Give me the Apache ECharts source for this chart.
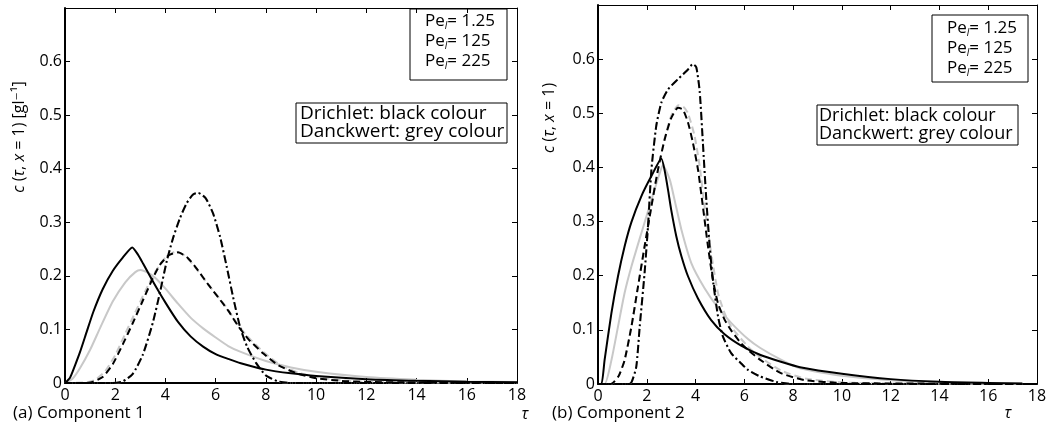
<!DOCTYPE html>
<html>
<head>
<meta charset="utf-8">
<script src="https://cdn.jsdelivr.net/npm/echarts/dist/echarts.min.js"></script>
<style>
  html, body { margin: 0; background: #fff; }
  #chart { width: 1051px; height: 428px; }
</style>
</head>
<body>
<div id="chart"></div>
<script>
// ─── Datos: pares [tau, c] ───────────────────────────────────────────────────

// (a) Component 1
const c1DrichletPe1 = [[0,0],[0.2,0.010],[0.4,0.033],[0.6,0.058],[0.86,0.095],[1.13,0.133],[1.5,0.175],[1.9,0.209],[2.3,0.234],[2.68,0.253],[2.9,0.240],[3.12,0.222],[3.52,0.188],[4.0,0.150],[4.5,0.114],[5.0,0.087],[5.5,0.068],[6.0,0.054],[6.5,0.045],[7.0,0.037],[8,0.025],[9,0.018],[10,0.013],[12,0.007],[14,0.004],[16,0.0025],[18,0.0015]]
const c1DanckPe1    = [[0,0],[0.3,0.008],[0.6,0.028],[1.0,0.062],[1.4,0.103],[1.9,0.152],[2.4,0.188],[2.8,0.207],[3.0,0.211],[3.3,0.206],[3.6,0.196],[4.0,0.176],[4.5,0.148],[5.0,0.122],[5.5,0.102],[6.0,0.085],[6.5,0.069],[7,0.058],[8,0.041],[9,0.029],[10,0.021],[12,0.011],[14,0.006],[16,0.003],[18,0.002]]
const c1DrichletPe2 = [[0,0],[0.8,0],[1.1,0.002],[1.5,0.011],[1.9,0.035],[2.3,0.072],[2.7,0.112],[3.1,0.154],[3.5,0.196],[3.8,0.222],[4.15,0.239],[4.5,0.244],[4.9,0.233],[5.3,0.210],[5.7,0.184],[6.1,0.160],[6.5,0.135],[6.9,0.106],[7.3,0.082],[7.9,0.055],[8.5,0.033],[9.3,0.017],[10,0.009],[11,0.004],[12,0.002],[14,0.001],[18,0]]
const c1DanckPe2    = [[0,0],[0.8,0.001],[1.2,0.006],[1.6,0.022],[2.0,0.052],[2.4,0.092],[2.8,0.132],[3.2,0.172],[3.6,0.208],[4.0,0.234],[4.4,0.245],[4.8,0.237],[5.2,0.215],[5.6,0.190],[6.0,0.167],[6.4,0.143],[6.8,0.115],[7.2,0.090],[7.9,0.058],[8.5,0.036],[9.3,0.019],[10,0.011],[11,0.005],[12,0.002],[14,0.001],[18,0]]
const c1DrichletPe3 = [[0,0],[1.9,0],[2.3,0.003],[2.7,0.017],[3.1,0.053],[3.5,0.113],[3.8,0.173],[4.05,0.227],[4.3,0.270],[4.58,0.308],[4.85,0.336],[5.1,0.352],[5.3,0.355],[5.6,0.345],[5.9,0.316],[6.18,0.272],[6.44,0.217],[6.71,0.157],[6.97,0.105],[7.25,0.068],[7.6,0.038],[8.0,0.014],[8.5,0.003],[9,0],[18,0]]
const c1DanckPe3    = c1DrichletPe3   // coincide con la negra

// (b) Component 2
const c2DrichletPe1 = [[0,0],[0.14,0],[0.27,0.044],[0.55,0.131],[0.82,0.199],[1.09,0.254],[1.37,0.299],[1.78,0.347],[2.19,0.384],[2.6,0.416],[2.73,0.395],[2.87,0.359],[3.0,0.322],[3.21,0.273],[3.42,0.236],[3.69,0.199],[4.1,0.158],[4.64,0.118],[5.19,0.092],[5.87,0.071],[6.64,0.054],[7.5,0.041],[8.28,0.031],[10,0.019],[12,0.009],[14,0.004],[16,0.002],[17.4,0.001]]
const c2DanckPe1    = [[0,0],[0.27,0],[0.55,0.044],[0.82,0.106],[1.09,0.168],[1.37,0.217],[1.78,0.279],[2.19,0.340],[2.5,0.385],[2.66,0.404],[2.94,0.378],[3.14,0.340],[3.42,0.285],[3.83,0.223],[4.37,0.177],[4.92,0.141],[5.46,0.113],[6.15,0.083],[6.64,0.067],[7.5,0.045],[8.28,0.029],[10,0.015],[12,0.007],[14,0.003],[16,0.0015],[17.4,0.001]]
const c2DrichletPe2 = [[0,0],[0.45,0],[0.61,0.002],[0.85,0.015],[1.09,0.044],[1.37,0.106],[1.64,0.180],[1.91,0.254],[2.19,0.328],[2.46,0.396],[2.73,0.451],[3.0,0.491],[3.28,0.510],[3.48,0.507],[3.69,0.483],[3.89,0.446],[4.1,0.396],[4.3,0.328],[4.51,0.254],[4.71,0.193],[4.92,0.149],[5.19,0.119],[5.46,0.099],[5.87,0.075],[6.15,0.063],[6.64,0.045],[7.5,0.020],[8.5,0.007],[10,0.002],[12,0.001],[17.4,0]]
const c2DanckPe2    = [[0,0],[0.45,0],[0.61,0.002],[0.85,0.015],[1.09,0.044],[1.37,0.106],[1.64,0.180],[1.91,0.254],[2.19,0.328],[2.46,0.396],[2.73,0.453],[3.0,0.495],[3.3,0.515],[3.5,0.512],[3.69,0.500],[3.96,0.458],[4.17,0.402],[4.37,0.328],[4.64,0.242],[4.92,0.168],[5.19,0.131],[5.46,0.106],[6.15,0.069],[6.64,0.050],[7.5,0.025],[8.5,0.010],[10,0.003],[12,0.001],[17.4,0]]
const c2DrichletPe3 = [[0,0],[1.2,0],[1.37,0.003],[1.57,0.032],[1.71,0.106],[1.91,0.205],[2.05,0.291],[2.19,0.396],[2.39,0.477],[2.6,0.520],[2.87,0.544],[3.28,0.563],[3.69,0.581],[3.89,0.591],[4.03,0.585],[4.17,0.540],[4.3,0.446],[4.44,0.341],[4.58,0.254],[4.71,0.193],[4.92,0.125],[5.12,0.088],[5.46,0.057],[5.87,0.038],[6.15,0.026],[6.64,0.014],[7.3,0.004],[8,0],[17.4,0]]
const c2DanckPe3    = c2DrichletPe3

const xTicks   = { min: 0, max: 18, interval: 2 }
const yTicks   = { min: 0, max: 0.7, interval: 0.1 }
const peLines  = ['1.25', '125', '225']
const bcLines  = ['Drichlet: black colour', 'Danckwert: grey colour']

// ─── Estilos ────────────────────────────────────────────────────────────────

const FONT  = '"Open Sans", "DejaVu Sans", sans-serif'
const BLACK = '#000'
const GREY  = '#c8c8c8'
const DASH  = [7, 4]
const DOT   = [8, 3, 2, 3]

const grids = [
  { left: 65,  top: 8, width: 452, height: 375 },
  { left: 598, top: 5, width: 439, height: 379 },
]

function xAxes(gi) {
  const base = {
    type: 'value', gridIndex: gi, ...xTicks,
    splitLine: { show: false },
    axisTick: { inside: true, length: 5, lineStyle: { color: BLACK, width: 1 } },
  }
  return [
    { ...base, position: 'bottom',
      axisLine: { onZero: false, lineStyle: { color: BLACK, width: 2 } },
      axisLabel: { color: BLACK, fontSize: 16, fontFamily: FONT, margin: 4 } },
    { ...base, position: 'top',
      axisLine: { onZero: false, lineStyle: { color: BLACK, width: 1 } },
      axisLabel: { show: false } },
  ]
}

function yAxes(gi) {
  const base = {
    type: 'value', gridIndex: gi, ...yTicks,
    splitLine: { show: false },
    axisTick: { inside: true, length: 5, lineStyle: { color: BLACK, width: 1 } },
  }
  return [
    { ...base, position: 'left',
      axisLine: { onZero: false, lineStyle: { color: BLACK, width: 2 } },
      axisLabel: { color: BLACK, fontSize: 16, fontFamily: FONT, margin: 3,
        formatter: v => v === 0 ? '0' : (v > 0.65 ? '' : v.toFixed(1)) } },
    { ...base, position: 'right',
      axisLine: { onZero: false, lineStyle: { color: BLACK, width: 1 } },
      axisLabel: { show: false } },
  ]
}

function line(name, data, gi, color, type) {
  return {
    name, type: 'line', data,
    xAxisIndex: gi * 2, yAxisIndex: gi * 2,
    showSymbol: false, smooth: 0.2,
    lineStyle: { color, width: 2, type },
    z: color === GREY ? 2 : 3,
  }
}

// ─── Cajas de texto (leyendas de la figura) ─────────────────────────────────

const textStyle = (extra) => ({ fill: BLACK, fontFamily: FONT, fontSize: 17, ...extra })
const peRich = {
  a: { fontFamily: FONT, fontSize: 17, color: BLACK, lineHeight: 20 },
  s: { fontFamily: FONT, fontSize: 10, fontStyle: 'italic', color: BLACK, verticalAlign: 'bottom', lineHeight: 12 },
}

function peBox(x, y, w, h, tx, ty) {
  return {
    type: 'group', children: [
      { type: 'rect', shape: { x, y, width: w, height: h }, style: { fill: '#fff', stroke: BLACK, lineWidth: 1 } },
      ...peLines.map((v, i) => ({
        type: 'text', x: tx, y: ty + i * 20,
        style: { text: `{a|Pe}{s|l}{a|= ${v}}`, rich: peRich, verticalAlign: 'middle', align: 'left' },
      })),
    ],
  }
}

function bcBox(x, y, w, h, tx, ty, size) {
  return {
    type: 'group', children: [
      { type: 'rect', shape: { x, y, width: w, height: h }, style: { fill: '#fff', stroke: BLACK, lineWidth: 1 } },
      ...bcLines.map((t, i) => ({
        type: 'text', x: tx, y: ty + i * 18,
        style: textStyle({ text: t, fontSize: size, verticalAlign: 'middle', align: 'left' }),
      })),
    ],
  }
}

const axisRich = {
  n: { fontFamily: FONT, fontSize: 16, color: BLACK },
  i: { fontFamily: FONT, fontSize: 16, color: BLACK, fontStyle: 'italic' },
}

const graphic = [
  { type: 'text', x: 19, y: 137, rotation: Math.PI / 2,
    style: { text: '{i|c}{n| (}{i|τ}{n|, }{i|x}{n| = 1) [gl⁻¹]}', rich: axisRich, align: 'center', verticalAlign: 'middle' } },
  { type: 'text', x: 549, y: 118, rotation: Math.PI / 2,
    style: { text: '{i|c}{n| (}{i|τ}{n|, }{i|x}{n| = 1)}', rich: axisRich, align: 'center', verticalAlign: 'middle' } },
  { type: 'text', x: 13, y: 413, style: textStyle({ text: '(a) Component 1', verticalAlign: 'middle' }) },
  { type: 'text', x: 552, y: 413, style: textStyle({ text: '(b) Component 2', verticalAlign: 'middle' }) },
  { type: 'text', x: 525, y: 414, style: textStyle({ text: 'τ', fontStyle: 'italic', fontSize: 16, align: 'center', verticalAlign: 'middle' }) },
  { type: 'text', x: 1008, y: 413, style: textStyle({ text: 'τ', fontStyle: 'italic', fontSize: 16, align: 'center', verticalAlign: 'middle' }) },
  peBox(410, 9, 97, 71, 425, 21),
  peBox(932, 15, 96, 67, 947, 28),
  bcBox(296, 103, 211, 40, 300, 114, 19),
  bcBox(817, 105, 201, 40, 819, 116, 18),
]

const chart = echarts.init(document.getElementById('chart'), null, { renderer: 'canvas' })
chart.setOption({
  animation: false,
  backgroundColor: '#fff',
  grid: grids,
  xAxis: [...xAxes(0), ...xAxes(1)],
  yAxis: [...yAxes(0), ...yAxes(1)],
  series: [
    line('C1 Danckwert Pe 225', c1DanckPe3, 0, GREY, DOT),
    line('C1 Danckwert Pe 1.25', c1DanckPe1, 0, GREY, 'solid'),
    line('C1 Danckwert Pe 125', c1DanckPe2, 0, GREY, DASH),
    line('C1 Drichlet Pe 1.25', c1DrichletPe1, 0, BLACK, 'solid'),
    line('C1 Drichlet Pe 125', c1DrichletPe2, 0, BLACK, DASH),
    line('C1 Drichlet Pe 225', c1DrichletPe3, 0, BLACK, DOT),
    line('C2 Danckwert Pe 225', c2DanckPe3, 1, GREY, DOT),
    line('C2 Danckwert Pe 1.25', c2DanckPe1, 1, GREY, 'solid'),
    line('C2 Danckwert Pe 125', c2DanckPe2, 1, GREY, DASH),
    line('C2 Drichlet Pe 1.25', c2DrichletPe1, 1, BLACK, 'solid'),
    line('C2 Drichlet Pe 125', c2DrichletPe2, 1, BLACK, DASH),
    line('C2 Drichlet Pe 225', c2DrichletPe3, 1, BLACK, DOT),
  ],
  graphic,
})
</script>
</body>
</html>
